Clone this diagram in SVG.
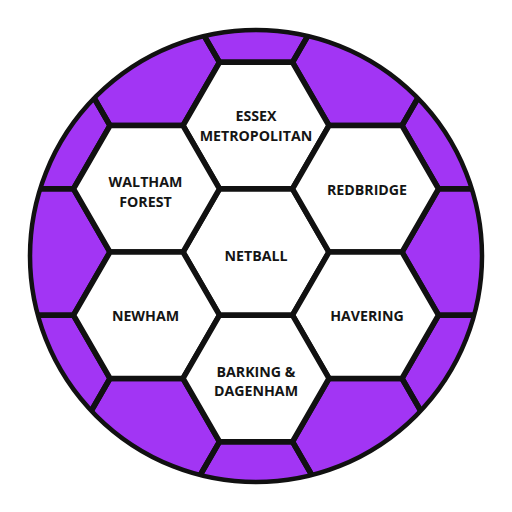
<svg xmlns="http://www.w3.org/2000/svg" xmlns:xlink="http://www.w3.org/1999/xlink" width="512" height="512" viewBox="0 0 512 512">
<style>
.bg{fill:#ffffff}
.ball{fill:#A235F4}
.rim{fill:none;stroke:#111;stroke-width:4.5}
.ph{fill:none;stroke:#111;stroke-width:5.5;stroke-linejoin:miter}
.wh{fill:#ffffff;stroke:#111;stroke-width:5.5;stroke-linejoin:miter}
.t{font-family:"Open Sans","Liberation Sans",sans-serif;font-weight:700;font-size:14.2px;text-anchor:middle;fill:#151515}
</style>
<defs>
<path id="hex" d="M73,0 L36.5,63.22 L-36.5,63.22 L-73,0 L-36.5,-63.22 L36.5,-63.22 Z"/>
<clipPath id="clip"><circle cx="256" cy="256" r="226"/></clipPath>
</defs>
<rect class="bg" width="512" height="512"/>
<circle class="ball" cx="256" cy="256" r="226"/>
<g id="outer-panels" clip-path="url(#clip)">
<use xlink:href="#hex" class="ph" x="37" y="125.56"/>
<use xlink:href="#hex" class="ph" x="37" y="252"/>
<use xlink:href="#hex" class="ph" x="37" y="378.44"/>
<use xlink:href="#hex" class="ph" x="146.5" y="62.34"/>
<use xlink:href="#hex" class="ph" x="146.5" y="441.66"/>
<use xlink:href="#hex" class="ph" x="256" y="-0.88"/>
<use xlink:href="#hex" class="ph" x="256" y="504.88"/>
<use xlink:href="#hex" class="ph" x="365.5" y="62.34"/>
<use xlink:href="#hex" class="ph" x="365.5" y="441.66"/>
<use xlink:href="#hex" class="ph" x="475" y="125.56"/>
<use xlink:href="#hex" class="ph" x="475" y="252"/>
<use xlink:href="#hex" class="ph" x="475" y="378.44"/>
</g>
<g id="netball">
<use xlink:href="#hex" class="wh" x="256" y="252"/>
<text class="t" x="256" y="261">NETBALL</text>
</g>
<g id="essex-metropolitan">
<use xlink:href="#hex" class="wh" x="256" y="125.56"/>
<text class="t" x="256" y="121">ESSEX</text>
<text class="t" x="256" y="140.5">METROPOLITAN</text>
</g>
<g id="waltham-forest">
<use xlink:href="#hex" class="wh" x="146.5" y="188.78"/>
<text class="t" x="145.5" y="187">WALTHAM</text>
<text class="t" x="145.5" y="206.5">FOREST</text>
</g>
<g id="redbridge">
<use xlink:href="#hex" class="wh" x="365.5" y="188.78"/>
<text class="t" x="367" y="195">REDBRIDGE</text>
</g>
<g id="newham">
<use xlink:href="#hex" class="wh" x="146.5" y="315.22"/>
<text class="t" x="145.5" y="321">NEWHAM</text>
</g>
<g id="havering">
<use xlink:href="#hex" class="wh" x="365.5" y="315.22"/>
<text class="t" x="367" y="321">HAVERING</text>
</g>
<g id="barking-dagenham">
<use xlink:href="#hex" class="wh" x="256" y="378.44"/>
<text class="t" x="256" y="376.5">BARKING &amp;</text>
<text class="t" x="256" y="396">DAGENHAM</text>
</g>
<circle class="rim" cx="256" cy="256" r="226"/>
</svg>
